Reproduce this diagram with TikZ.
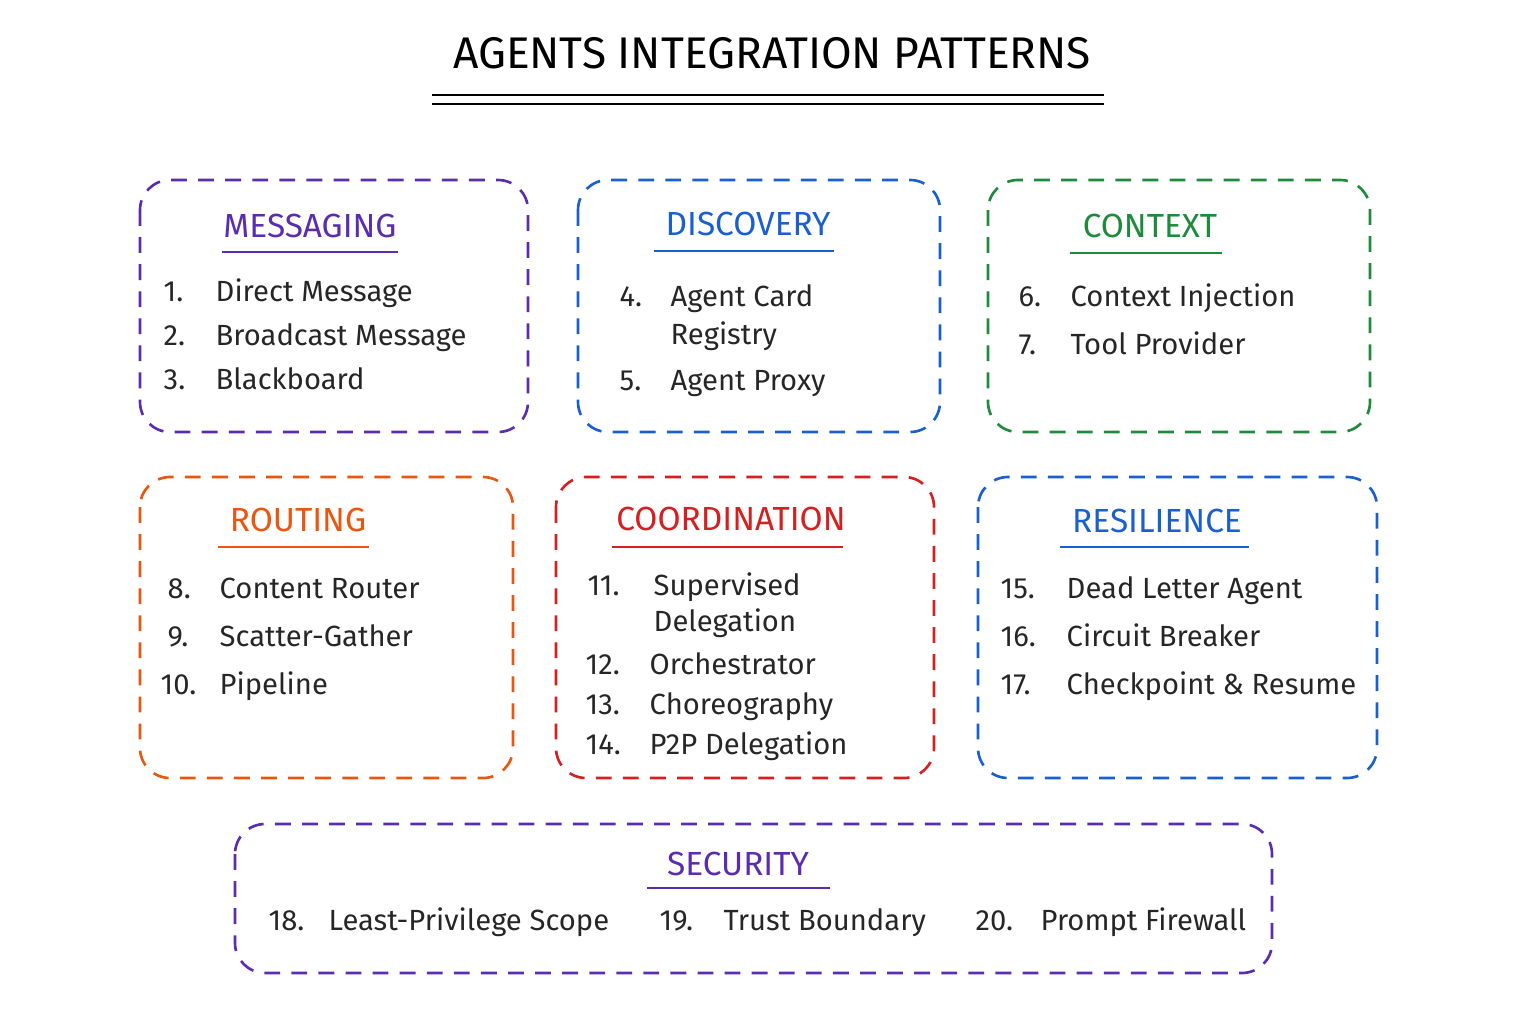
\documentclass[tikz,border=0pt]{standalone}
\usepackage{fontspec}
\setmainfont{Fira Sans}[Numbers=Lining]
\definecolor{cpurple}{HTML}{5A2DB0}
\definecolor{cblue}{HTML}{1A5FD0}
\definecolor{cgreen}{HTML}{1E8A3C}
\definecolor{corange}{HTML}{E8560F}
\definecolor{cred}{HTML}{D42020}
\tikzset{
  group/.style={draw=#1, line width=0.75pt, dash pattern=on 4.5pt off 3.2pt, rounded corners=0.3cm},
  head/.style={text=#1, font=\fontsize{9.5}{11}\selectfont, inner sep=0pt},
  rule/.style={draw=#1, line width=0.7pt},
  item/.style={anchor=base west, inner sep=0pt, yshift=-0.09cm, font=\fontsize{8.3}{10}\selectfont, text=black!85}
}
\begin{document}
\begin{tikzpicture}[x=0.01cm, y=-0.01cm]
    \useasboundingbox (0,0) rectangle (1536,1024);

    % Title
    \node[font=\fontsize{12.6}{14}\selectfont] (title) at (772,53) {AGENTS INTEGRATION PATTERNS};
    \draw[line width=0.7pt] (432,95) -- (1104,95);
    \draw[line width=0.7pt] (432,104) -- (1104,104);

    % Group frames
    \draw[group=cpurple] (140,180) rectangle (528,432);
    \draw[group=cblue] (578,180) rectangle (940,432);
    \draw[group=cgreen] (988,180) rectangle (1370,432);
    \draw[group=corange] (140,477) rectangle (513,778);
    \draw[group=cred] (556,477) rectangle (934,778);
    \draw[group=cblue] (978,477) rectangle (1377,778);
    \draw[group=cpurple] (235,824) rectangle (1272,973);

    % Messaging
    \node[head=cpurple] (msg) at (310,226) {MESSAGING};
    \draw[rule=cpurple] (222,252) -- (398,252);
    \node[item] (n1) at (163,292) {1.}; \node[item] (i1) at (215,292) {Direct Message};
    \node[item] (n2) at (163,336) {2.}; \node[item] (i2) at (215,336) {Broadcast Message};
    \node[item] (n3) at (163,380) {3.}; \node[item] (i3) at (215,380) {Blackboard};

    % Discovery
    \node[head=cblue] (disc) at (748,224) {DISCOVERY};
    \draw[rule=cblue] (654,251) -- (834,251);
    \node[item] (n4) at (619,297) {4.}; \node[item] (i4) at (670,297) {Agent Card};
    \node[item] (i4b) at (670,335) {Registry};
    \node[item] (n5) at (619,381) {5.}; \node[item] (i5) at (670,381) {Agent Proxy};

    % Context
    \node[head=cgreen] (ctx) at (1150,226) {CONTEXT};
    \draw[rule=cgreen] (1070,253) -- (1222,253);
    \node[item] (n6) at (1018,297) {6.}; \node[item] (i6) at (1070,297) {Context Injection};
    \node[item] (n7) at (1018,345) {7.}; \node[item] (i7) at (1070,345) {Tool Provider};

    % Routing
    \node[head=corange] (rout) at (298,520) {ROUTING};
    \draw[rule=corange] (218,547) -- (369,547);
    \node[item] (n8) at (167,589) {8.}; \node[item] (i8) at (219,589) {Content Router};
    \node[item] (n9) at (167,637) {9.}; \node[item] (i9) at (219,637) {Scatter-Gather};
    \node[item] (n10) at (160,685) {10.}; \node[item] (i10) at (219,685) {Pipeline};

    % Coordination
    \node[head=cred] (coord) at (731,519) {COORDINATION};
    \draw[rule=cred] (612,547) -- (843,547);
    \node[item] (n11) at (587,586) {11.}; \node[item] (i11) at (653,586) {Supervised};
    \node[item] (i11b) at (653,622) {Delegation};
    \node[item] (n12) at (585,665) {12.}; \node[item] (i12) at (649,665) {Orchestrator};
    \node[item] (n13) at (585,705) {13.}; \node[item] (i13) at (649,705) {Choreography};
    \node[item] (n14) at (585,745) {14.}; \node[item] (i14) at (649,745) {P2P Delegation};

    % Resilience
    \node[head=cblue] (res) at (1157,521) {RESILIENCE};
    \draw[rule=cblue] (1060,547) -- (1249,547);
    \node[item] (n15) at (1000,589) {15.}; \node[item] (i15) at (1066,589) {Dead Letter Agent};
    \node[item] (n16) at (1000,637) {16.}; \node[item] (i16) at (1066,637) {Circuit Breaker};
    \node[item] (n17) at (1000,685) {17.}; \node[item] (i17) at (1066,685) {Checkpoint \& Resume};

    % Security
    \node[head=cpurple] (sec) at (738,864) {SECURITY};
    \draw[rule=cpurple] (647,888) -- (830,888);
    \node[item] (n18) at (268,921) {18.}; \node[item] (i18) at (328,921) {Least-Privilege Scope};
    \node[item] (n19) at (659,921) {19.}; \node[item] (i19) at (723,921) {Trust Boundary};
    \node[item] (n20) at (975,921) {20.}; \node[item] (i20) at (1040,921) {Prompt Firewall};
\end{tikzpicture}
\end{document}
